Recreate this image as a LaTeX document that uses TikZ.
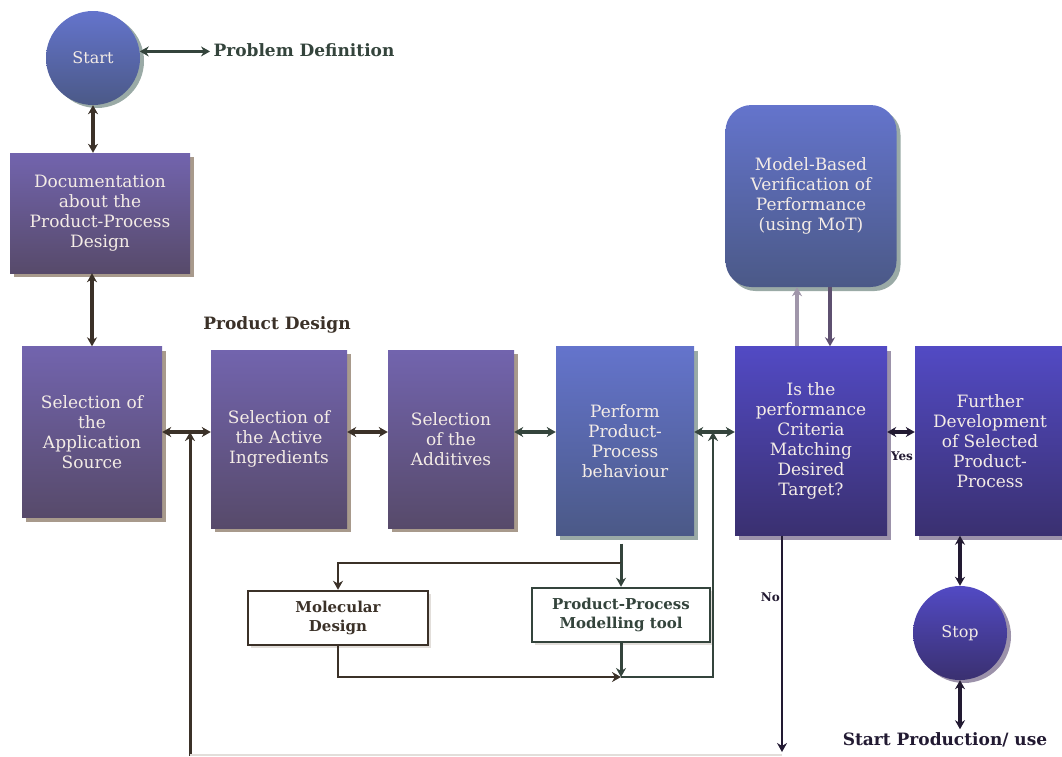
\documentclass[tikz,border=0pt]{standalone}
\usepackage{fontspec}
\setmainfont{DejaVu Serif}
\usepackage{xcolor}
\usetikzlibrary{arrows.meta,shadows,positioning}

\definecolor{violettop}{HTML}{7264AE}
\definecolor{violetbot}{HTML}{574A6A}
\definecolor{bluetop}{HTML}{6474CC}
\definecolor{bluebot}{HTML}{4B5987}
\definecolor{indigotop}{HTML}{524AC4}
\definecolor{indigobot}{HTML}{3A3070}
\definecolor{shadebrown}{HTML}{A89A8C}
\definecolor{shadegrey}{HTML}{9AAAA6}
\definecolor{shadeviolet}{HTML}{9C92AA}
\definecolor{boxtext}{HTML}{F4ECE6}
\definecolor{linkbrown}{HTML}{3B3128}
\definecolor{linkslate}{HTML}{34443C}
\definecolor{linknavy}{HTML}{221A32}
\definecolor{motup}{HTML}{A096AA}
\definecolor{motdown}{HTML}{5E5070}
\definecolor{faintline}{HTML}{E2DEDA}

\tikzset{
  stepbox/.style={rectangle, inner sep=2pt, align=center, text=boxtext,
    font=\fontsize{17}{20}\selectfont},
  violetbox/.style={stepbox, top color=violettop, bottom color=violetbot,
    drop shadow={shadow xshift=4pt, shadow yshift=-4pt, fill=shadebrown, opacity=1}},
  bluebox/.style={stepbox, top color=bluetop, bottom color=bluebot,
    drop shadow={shadow xshift=4pt, shadow yshift=-4pt, fill=shadegrey, opacity=1}},
  indigobox/.style={stepbox, top color=indigotop, bottom color=indigobot,
    drop shadow={shadow xshift=4pt, shadow yshift=-4pt, fill=shadeviolet, opacity=1}},
  disc/.style={circle, minimum size=94pt, inner sep=0pt, text=boxtext,
    font=\fontsize{16}{18}\selectfont,
    drop shadow={shadow xshift=4pt, shadow yshift=-3pt, fill=#1, opacity=1}},
  toolbox/.style={rectangle, draw=#1, line width=2.5pt, fill=white, text=#1, align=center,
    font=\bfseries\fontsize{15}{19}\selectfont,
    drop shadow={shadow xshift=3pt, shadow yshift=-3pt, fill=faintline, opacity=1}},
  tag/.style={font=\bfseries\fontsize{17}{20}\selectfont},
  smalltag/.style={font=\bfseries\fontsize{12}{14}\selectfont, text=linknavy, inner sep=1pt},
  twoway/.style={{Stealth[length=9pt,width=10pt]}-{Stealth[length=9pt,width=10pt]}},
  oneway/.style={-{Stealth[length=9pt,width=10pt]}},
  link/.style={draw=#1, line width=3.5pt},
}

\begin{document}
\begin{tikzpicture}[x=1pt, y=-1pt]
  \useasboundingbox (0,0) rectangle (1062,756);

  % labels
  \node[tag, text=linkslate] at (304,50) (probdef) {Problem Definition};
  \node[tag, text=linkbrown] at (277,325) (pdesign) {Product Design};
  \node[tag, text=linknavy] at (945,740) (production) {Start Production/ use};
  \node[smalltag] at (902,456) (yes) {Yes};
  \node[smalltag, anchor=east] at (781,597) (no) {No};

  % start and stop
  \node[disc=shadegrey, top color=bluetop, bottom color=bluebot] at (93,58) (start) {Start};
  \node[disc=shadeviolet, top color=indigotop, bottom color=indigobot] at (960,633) (stop) {Stop};

  % main row
  \node[violetbox, minimum width=180pt, minimum height=120pt] at (100,213) (doc)
    {Documentation\\about the\\Product-Process\\Design};
  \node[violetbox, minimum width=140pt, minimum height=171pt] at (92,432) (app)
    {Selection of\\the\\Application\\Source};
  \node[violetbox, minimum width=136pt, minimum height=178pt] at (279,439) (active)
    {Selection of\\the Active\\Ingredients};
  \node[violetbox, minimum width=126pt, minimum height=178pt] at (451,439) (additives)
    {Selection\\of the\\Additives};
  \node[bluebox, minimum width=138pt, minimum height=189pt] at (625,441) (perform)
    {Perform\\Product-\\Process\\behaviour};
  \node[indigobox, minimum width=152pt, minimum height=189pt] at (811,441) (decision)
    {Is the\\performance\\Criteria\\Matching\\Desired\\Target?};
  \node[indigobox, minimum width=150pt, minimum height=189pt] at (990,441) (further)
    {Further\\Development\\of Selected\\Product-\\Process};
  \node[bluebox, rounded corners=26pt, minimum width=171pt, minimum height=182pt] at (811,196) (mot)
    {Model-Based\\Verification of\\Performance\\(using MoT)};

  % modelling tools
  \node[toolbox=linkbrown, minimum width=180pt, minimum height=54pt] at (338,618) (mol)
    {Molecular\\Design};
  \node[toolbox=linkslate, minimum width=178pt, minimum height=54pt] at (621,615) (ppmt)
    {Product-Process\\Modelling tool};

  % connectors
  \draw[link=linkslate, line width=3pt, twoway] (start.8) -- (start.8 -| probdef.west);
  \draw[link=linkbrown, line width=4.5pt, twoway] (start.south) -- (start.south |- doc.north);
  \draw[link=linkbrown, line width=4.5pt, twoway] (app.north |- doc.south) -- (app.north);

  \coordinate (jL) at (190,432);
  \coordinate (loopL) at (190,756);
  \coordinate (jR) at (713,432);
  \draw[link=linkbrown, line width=3pt, oneway] (loopL) -- (jL);
  \draw[link=linkbrown, twoway] (app.east |- jL) -- (active.west |- jL);
  \draw[link=linkbrown, twoway] (active.east |- jL) -- (additives.west |- jL);
  \draw[link=linkslate, twoway] (additives.east |- jL) -- (perform.west |- jL);
  \draw[link=linkslate, twoway] (perform.east |- jR) -- (decision.west |- jR);
  \draw[link=linknavy, twoway] (decision.east |- jR) -- (further.west |- jR);

  \draw[link=motup, line width=4.5pt, oneway] ([xshift=-14pt]decision.north) -- ([xshift=-14pt]mot.south);
  \draw[link=motdown, line width=4.5pt, oneway] ([xshift=19pt]mot.south) -- ([xshift=19pt]decision.north);

  \coordinate (split) at (621,563);
  \coordinate (merge) at (621,677);
  \draw[link=linkslate, line width=3pt] ([xshift=-4pt,yshift=-8pt]perform.south) -- (split);
  \draw[link=linkbrown, line width=2.5pt, oneway] (split) -| (mol.north);
  \draw[link=linkslate, line width=3pt, oneway] (split) -- (ppmt.north);
  \draw[link=linkbrown, line width=2.5pt, oneway] (mol.south) |- (merge);
  \draw[link=linkslate, line width=3pt, oneway] (ppmt.south) -- (merge);
  \draw[link=linkslate, line width=2.5pt, oneway] (merge) -| (jR);

  \coordinate (noEnd) at (782,752);
  \draw[link=linknavy, line width=2.5pt, oneway] ([xshift=-29pt]decision.south) -- (noEnd);
  \draw[draw=faintline, line width=1.5pt] ([yshift=1pt]loopL) -- ([yshift=1pt]loopL -| noEnd);

  \draw[link=linknavy, line width=4pt, twoway] (stop.north |- further.south) -- (stop.north);
  \draw[link=linknavy, line width=4pt, twoway] (stop.south) -- (stop.south |- production.north);
\end{tikzpicture}
\end{document}
